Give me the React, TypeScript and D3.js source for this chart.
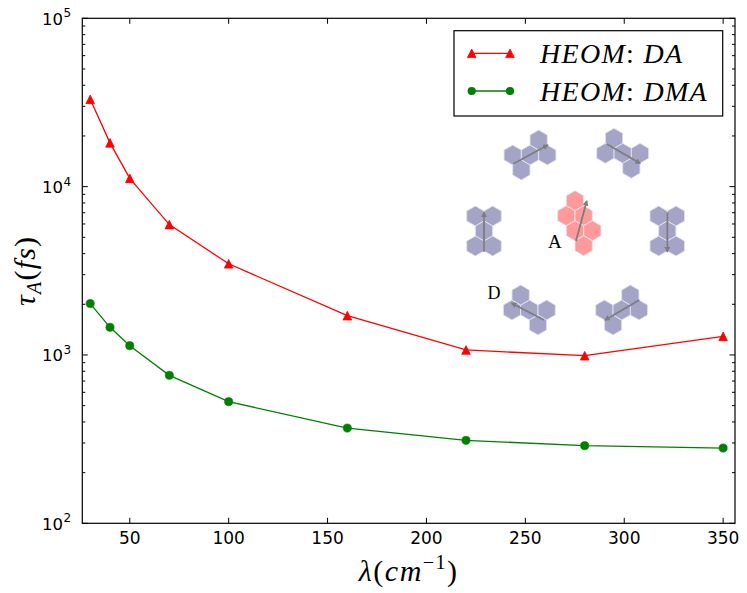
import React from "react";
import * as d3 from "d3";

const lambdas = [30, 40, 50, 70, 100, 160, 220, 280, 350];
const tauDA = [33000, 18200, 11200, 5950, 3480, 1712, 1071, 990, 1290];
const tauDMA = [2020, 1460, 1135, 757, 528, 368, 311, 289, 280];
const xTicks = [50, 100, 150, 200, 250, 300, 350];
const yExponents = [2, 3, 4, 5];
const seriesNames = ["DA", "DMA"];
const seriesColors = ["#ff0000", "#008000"];

const W = 747;
const H = 593;
const L = 82.3, R = 735, T = 18.3, B = 523.3;

const x = d3.scaleLinear().domain([26, 356]).range([L, R]);
const y = d3.scaleLog().domain([100, 100000]).range([B, T]);

const minorY: number[] = [];
for (let e = 2; e < 5; e++) for (let m = 2; m <= 9; m++) minorY.push(m * Math.pow(10, e));

const MATH = "'Liberation Serif', 'DejaVu Serif', serif";
const SANS = "'DejaVu Sans', sans-serif";

// inset (molecule sketch) geometry: hexagon clusters in axial coordinates
const HR = 10; // hex circumradius
const HW = Math.sqrt(3) * HR;
type Cluster = { cx: number; cy: number; hexes: [number, number][]; arrow: [number, number, number, number]; red?: boolean };
const clusters: Cluster[] = [
  { cx: 530, cy: 155, hexes: [[-1, 0], [0, 0], [1, 0], [0.5, -1], [-0.5, 1]], arrow: [-16.7, 9, 17.7, -10] },
  { cx: 622.7, cy: 153.3, hexes: [[-1, 0], [0, 0], [1, 0], [-0.5, -1], [0.5, 1]], arrow: [-16, -9.3, 17.3, 10] },
  { cx: 484, cy: 231, hexes: [[-0.5, -1], [0.5, -1], [0, 0], [-0.5, 1], [0.5, 1]], arrow: [0, 20.7, 0, -18.7] },
  { cx: 667.3, cy: 231, hexes: [[-0.5, -1], [0.5, -1], [0, 0], [-0.5, 1], [0.5, 1]], arrow: [0, -18.7, 0, 20.7] },
  { cx: 575, cy: 215.7, hexes: [[0, -1], [-0.5, 0], [0.5, 0], [0, 1], [1, 1], [0.5, 2]], arrow: [1, 25.3, 11.7, -14.7], red: true },
  { cx: 529.3, cy: 310, hexes: [[-1, 0], [0, 0], [1, 0], [-0.5, -1], [0.5, 1]], arrow: [14.7, 10, -17.6, -6.7] },
  { cx: 621.7, cy: 310, hexes: [[-1, 0], [0, 0], [1, 0], [0.5, -1], [-0.5, 1]], arrow: [17.6, -10, -16.7, 10] },
];

function hexPath(cx: number, cy: number) {
  const pts: string[] = [];
  for (let i = 0; i < 6; i++) {
    const a = (Math.PI / 180) * (60 * i - 90);
    pts.push(`${cx + HR * Math.cos(a)},${cy + HR * Math.sin(a)}`);
  }
  return pts.join(" ");
}

function Triangle({ cx, cy, color }: { cx: number; cy: number; color: string }) {
  const s = 4.3;
  return <polygon points={`${cx},${cy - s} ${cx - s},${cy + s} ${cx + s},${cy + s}`} fill={color} stroke={color} strokeWidth={0.8} />;
}

function Inset() {
  return (
    <g>
      <defs>
        <marker id="ah" viewBox="0 0 10 10" refX="8" refY="5" markerWidth="3.2" markerHeight="3.2" orient="auto">
          <path d="M0,0 L10,5 L0,10 z" fill="#7d7d7d" />
        </marker>
      </defs>
      {clusters.map((c, i) => (
        <g key={i}>
          {c.hexes.map(([q, r], j) => (
            <polygon key={j} points={hexPath(c.cx + q * HW, c.cy + r * 1.5 * HR)} fill={c.red ? "#ff9a9a" : "#a4a4c6"} stroke="#e4e4ee" strokeWidth={0.9} />
          ))}
          <line x1={c.cx + c.arrow[0]} y1={c.cy + c.arrow[1]} x2={c.cx + c.arrow[2]} y2={c.cy + c.arrow[3]} stroke="#7d7d7d" strokeWidth={1.8} markerEnd="url(#ah)" />
        </g>
      ))}
      <text x={548} y={247.5} fontFamily={MATH} fontSize={19}>A</text>
      <text x={487.5} y={299} fontFamily={MATH} fontSize={18}>D</text>
    </g>
  );
}

export default function App() {
  const series = [tauDA, tauDMA];
  const line = d3.line<number>().x((_, i) => x(lambdas[i])).y((v) => y(v));
  return (
    <div style={{ position: "absolute", left: 0, top: 0 }}>
      <svg width={W} height={H} viewBox={`0 0 ${W} ${H}`} style={{ display: "block", background: "#fff" }}>
        <rect x={0} y={0} width={W} height={H} fill="#fff" />
        <Inset />
        {series.map((s, k) => (
          <g key={k}>
            <path d={line(s) || ""} fill="none" stroke={seriesColors[k]} strokeWidth={1.3} />
            {s.map((v, i) =>
              k === 0 ? (
                <Triangle key={i} cx={x(lambdas[i])} cy={y(v)} color={seriesColors[k]} />
              ) : (
                <circle key={i} cx={x(lambdas[i])} cy={y(v)} r={4.1} fill={seriesColors[k]} stroke={seriesColors[k]} strokeWidth={0.6} />
              )
            )}
          </g>
        ))}
        {xTicks.map((t) => (
          <g key={t}>
            <line x1={x(t)} x2={x(t)} y1={B} y2={B - 5.5} stroke="#000" strokeWidth={1} />
            <line x1={x(t)} x2={x(t)} y1={T} y2={T + 5.5} stroke="#000" strokeWidth={1} />
            <text x={x(t)} y={543.5} textAnchor="middle" fontFamily={SANS} fontSize={17}>{t}</text>
          </g>
        ))}
        {yExponents.map((e) => {
          const yy = y(Math.pow(10, e));
          return (
            <g key={e}>
              <line x1={L} x2={L + 5.5} y1={yy} y2={yy} stroke="#000" strokeWidth={1} />
              <line x1={R} x2={R - 5.5} y1={yy} y2={yy} stroke="#000" strokeWidth={1} />
              <text x={63} y={yy + 6.5} textAnchor="end" fontFamily={SANS} fontSize={16.5}>10</text>
              <text x={63.5} y={yy - 1} textAnchor="start" fontFamily={SANS} fontSize={12}>{e}</text>
            </g>
          );
        })}
        {minorY.map((v) => (
          <g key={v}>
            <line x1={L} x2={L + 3} y1={y(v)} y2={y(v)} stroke="#000" strokeWidth={1} />
            <line x1={R} x2={R - 3} y1={y(v)} y2={y(v)} stroke="#000" strokeWidth={1} />
          </g>
        ))}
        <rect x={L} y={T} width={R - L} height={B - T} fill="none" stroke="#000" strokeWidth={1.2} />
        <rect x={454} y={30.7} width={268.7} height={85.3} fill="#fff" stroke="#000" strokeWidth={1.2} />
        {seriesNames.map((n, k) => {
          const ly = k === 0 ? 53.3 : 91;
          const by = k === 0 ? 63 : 100.7;
          return (
            <g key={n}>
              <line x1={471.7} x2={510} y1={ly} y2={ly} stroke={seriesColors[k]} strokeWidth={1.3} />
              {[471.7, 510].map((lx) =>
                k === 0 ? (
                  <Triangle key={lx} cx={lx} cy={ly} color={seriesColors[k]} />
                ) : (
                  <circle key={lx} cx={lx} cy={ly} r={4.1} fill={seriesColors[k]} />
                )
              )}
              <text x={540} y={by} fontFamily={MATH} fontSize={28} letterSpacing={1.3}>
                <tspan fontStyle="italic">HEOM</tspan>
                <tspan>: </tspan>
                <tspan fontStyle="italic">{n}</tspan>
              </text>
            </g>
          );
        })}
        <text x={408.7} y={581} textAnchor="middle" fontFamily={MATH} fontSize={30} letterSpacing={1.5}>
          <tspan fontStyle="italic">λ</tspan>
          <tspan>(</tspan>
          <tspan fontStyle="italic">cm</tspan>
          <tspan fontSize={20} dy={-12}>−1</tspan>
          <tspan dy={12}>)</tspan>
        </text>
        <text transform={`translate(35,${(T + B) / 2}) rotate(-90)`} textAnchor="middle" fontFamily={MATH} fontSize={30} letterSpacing={1.2}>
          <tspan fontStyle="italic">τ</tspan>
          <tspan fontStyle="italic" fontSize={20} dy={6}>A</tspan>
          <tspan dy={-6}>(</tspan>
          <tspan fontStyle="italic">fs</tspan>
          <tspan>)</tspan>
        </text>
      </svg>
    </div>
  );
}
